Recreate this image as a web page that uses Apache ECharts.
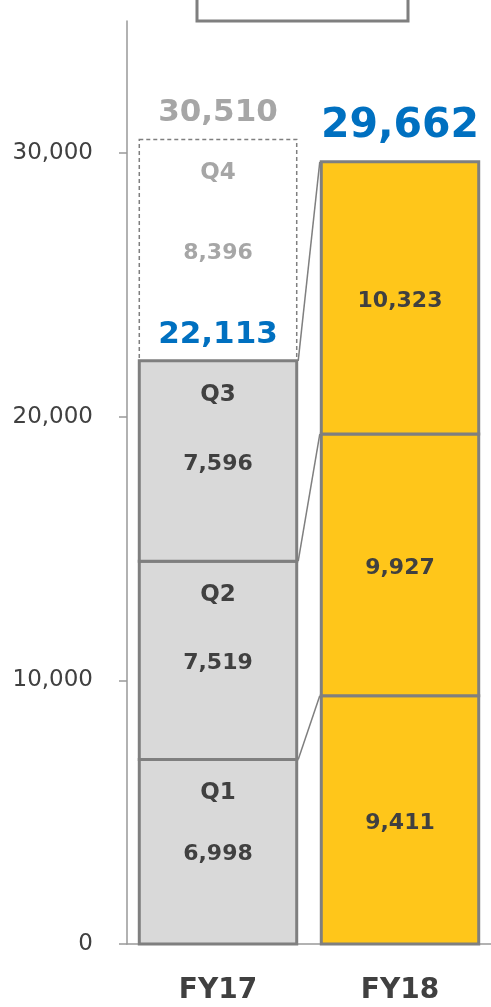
<!DOCTYPE html>
<html>
<head>
<meta charset="utf-8">
<script src="https://cdn.jsdelivr.net/npm/echarts@6/dist/echarts.min.js"></script>
<style>
  html, body { margin: 0; padding: 0; background: #fff; }
  #chart { width: 491px; height: 1007px; }
</style>
</head>
<body>
<div id="chart"></div>
<script>
// data
const categories = ['FY17', 'FY18'];
const quarters = ['Q1', 'Q2', 'Q3', 'Q4'];
const fy17Values = [6998, 7519, 7596, 8396];   // Q4 is the plan (dashed)
const fy18Values = [9411, 9927, 10323];
const fy17Actual = 22113;
const fy17Total = 30510;
const fy18Total = 29662;
const yTicks = [0, 10000, 20000, 30000];

const FONT = 'Verdana, "DejaVu Sans", sans-serif';
const DARK = '#404040';
const LIGHT = '#A6A6A6';
const BLUE = '#0070C0';
const BORDER = '#7F7F7F';
const BAR_RATIO = 0.865;

// build segment items [cat, base, value, quarter]
function buildSegments(catIdx, values) {
  const out = [];
  let base = 0;
  values.forEach((v, q) => {
    out.push([catIdx, base, v, q]);
    base += v;
  });
  return out;
}
const segs17 = buildSegments(0, fy17Values);
const segs18 = buildSegments(1, fy18Values);
// plan segment first, so solid borders stay on top
const segData = [segs17[3], segs17[0], segs17[1], segs17[2]].concat(segs18);

// connector lines between segment tops
const connData = fy18Values.map((v, q) => [
  segs17[q][1] + segs17[q][2],
  segs18[q][1] + segs18[q][2]
]);

// totals [cat, value, colour, size]
const totalData = [
  [0, fy17Actual, BLUE, 31],
  [0, fy17Total, LIGHT, 31],
  [1, fy18Total, BLUE, 41]
];

const fmt = v => Number(v).toLocaleString('en-US');

function renderSegment(params, api) {
  const cat = api.value(0);
  const base = api.value(1);
  const val = api.value(2);
  const q = api.value(3);
  const p0 = api.coord([cat, base]);
  const p1 = api.coord([cat, base + val]);
  const w = api.size([1, 0])[0] * BAR_RATIO;
  const x = p0[0] - w / 2;
  const isPlan = cat === 0 && q === 3;
  const textColor = isPlan ? LIGHT : DARK;
  const children = [{
    type: 'rect',
    shape: { x: x, y: p1[1], width: w, height: p0[1] - p1[1] },
    style: {
      fill: isPlan ? '#fff' : (cat === 0 ? '#D9D9D9' : '#FFC61A'),
      stroke: BORDER,
      lineWidth: isPlan ? 1.5 : 3,
      lineDash: isPlan ? [4, 3] : null
    }
  }, {
    type: 'text',
    style: {
      x: p0[0], y: (p0[1] + p1[1]) / 2 + 3,
      text: fmt(val),
      fill: textColor,
      font: 'bold 22px ' + FONT,
      align: 'center', verticalAlign: 'middle'
    }
  }];
  if (cat === 0) {
    children.push({
      type: 'text',
      style: {
        x: p0[0], y: p1[1] + 34,
        text: quarters[q],
        fill: textColor,
        font: 'bold 23px ' + FONT,
        align: 'center', verticalAlign: 'middle'
      }
    });
  }
  return { type: 'group', children: children };
}

function renderConnector(params, api) {
  const half = api.size([1, 0])[0] * BAR_RATIO / 2;
  const a = api.coord([0, api.value(0)]);
  const b = api.coord([1, api.value(1)]);
  return {
    type: 'line',
    shape: { x1: a[0] + half + 1.5, y1: a[1], x2: b[0] - half - 1.5, y2: b[1] },
    style: { stroke: BORDER, lineWidth: 1.5 }
  };
}

function renderTotal(params, api) {
  const p = api.coord([api.value(0), api.value(1)]);
  const item = totalData[params.dataIndex];
  const size = item[3];
  return {
    type: 'text',
    style: {
      x: p[0], y: p[1] - (size > 35 ? 35 : 26),
      text: fmt(item[1]),
      fill: item[2],
      font: 'bold ' + size + 'px ' + FONT,
      align: 'center', verticalAlign: 'middle'
    }
  };
}

const chart = echarts.init(document.getElementById('chart'), null, { renderer: 'canvas' });
chart.setOption({
  animation: false,
  backgroundColor: '#fff',
  grid: { left: 127, top: 21, width: 366, height: 923 },
  xAxis: {
    type: 'category',
    data: categories,
    axisLine: { lineStyle: { color: '#999', width: 1.5 } },
    axisTick: { inside: true, length: 10, lineStyle: { color: '#999', width: 1.5 } },
    axisLabel: { margin: 33, fontSize: 28, fontWeight: 'bold', color: DARK, fontFamily: FONT }
  },
  yAxis: {
    type: 'value',
    min: yTicks[0],
    max: 35000,
    interval: yTicks[1] - yTicks[0],
    splitLine: { show: false },
    axisLine: { show: true, lineStyle: { color: '#999', width: 1.5 } },
    axisTick: { show: true, length: 8, customValues: yTicks, lineStyle: { color: '#999', width: 1.5 } },
    axisLabel: {
      margin: 34, fontSize: 23, color: DARK, fontFamily: FONT,
      customValues: yTicks,
      formatter: v => fmt(v)
    }
  },
  graphic: [{
    type: 'rect',
    shape: { x: 197, y: -12, width: 211, height: 33 },
    style: { fill: '#fff', stroke: BORDER, lineWidth: 3 }
  }],
  series: [{
    type: 'custom',
    name: 'connectors',
    data: connData,
    renderItem: renderConnector,
    z: 1
  }, {
    type: 'custom',
    name: 'segments',
    data: segData,
    renderItem: renderSegment,
    z: 2
  }, {
    type: 'custom',
    name: 'totals',
    data: totalData.map(d => [d[0], d[1]]),
    renderItem: renderTotal,
    z: 3
  }]
});
</script>
</body>
</html>
